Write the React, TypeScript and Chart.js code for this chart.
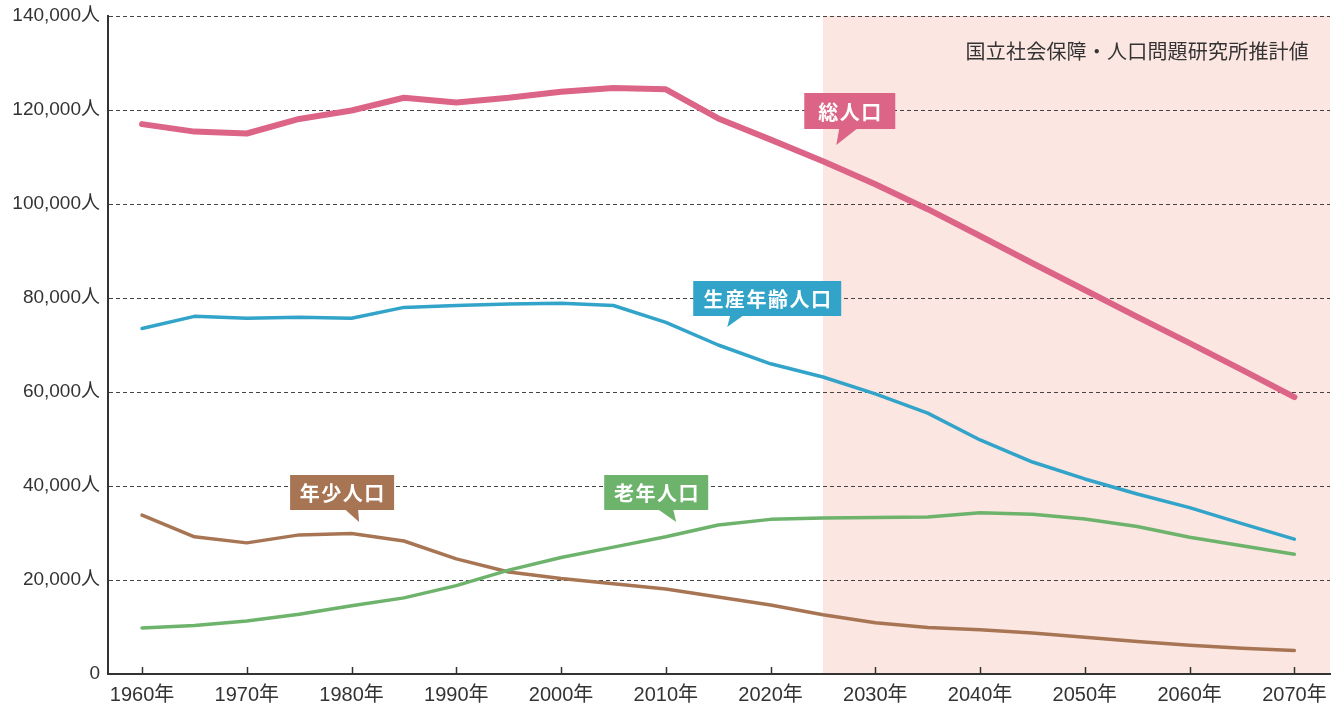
import React, { useEffect, useRef } from 'react';
import { Chart, registerables } from 'chart.js';

Chart.register(...registerables);

// ---------- data ----------
const years = [
  1960, 1965, 1970, 1975, 1980, 1985, 1990, 1995, 2000, 2005, 2010, 2015,
  2020, 2025, 2030, 2035, 2040, 2045, 2050, 2055, 2060, 2065, 2070,
];
const totalPopulation = [
  117000, 115400, 115000, 118100, 119900, 122600, 121600, 122600, 123900, 124700, 124400, 118200,
  113700, 109100, 104200, 98900, 93200, 87400, 81700, 76000, 70400, 64700, 58900,
];
const workingAgePopulation = [
  73500, 76100, 75700, 75900, 75700, 78000, 78400, 78700, 78900, 78400, 74800, 70000,
  66000, 63200, 59600, 55500, 49800, 45100, 41500, 38300, 35400, 32000, 28700,
];
const elderlyPopulation = [
  9800, 10300, 11300, 12700, 14500, 16200, 18800, 22100, 24800, 27000, 29200, 31700,
  32900, 33200, 33300, 33400, 34300, 34000, 33000, 31400, 29100, 27300, 25500,
];
const youthPopulation = [
  33800, 29200, 27900, 29600, 29900, 28300, 24500, 21700, 20300, 19200, 18100, 16400,
  14700, 12600, 10900, 9900, 9400, 8700, 7800, 6900, 6100, 5500, 5000,
];
const seriesNames = ['総人口', '生産年齢人口', '老年人口', '年少人口'];
const xTickYears = [1960, 1970, 1980, 1990, 2000, 2010, 2020, 2030, 2040, 2050, 2060, 2070];
const yTickValues = [0, 20000, 40000, 60000, 80000, 100000, 120000, 140000];
const projectionStartYear = 2025;
const projectionNote = '国立社会保障・人口問題研究所推計値';

// ---------- styles / layout ----------
const COLORS = {
  total: '#dc6486',
  working: '#33a4c9',
  elderly: '#6db36c',
  youth: '#a87554',
  shade: '#fce6e1',
  axis: '#333333',
  grid: '#444444',
  text: '#333333',
};
const FONT_FAMILY = '"Liberation Sans", Arial, "Noto Sans CJK JP", sans-serif';
const CJK_FONT = '"Noto Sans CJK JP", sans-serif';

// callout anchors: tail tip at (year, value); box/tail offsets in px relative to tip
const callouts = [
  { text: '総人口', color: COLORS.total, tipYear: 2026.27, tipValue: 112550, box: { dx: -32, dy: -52, w: 91, h: 36 }, tail: [3, 21] },
  { text: '生産年齢人口', color: COLORS.working, tipYear: 2015.86, tipValue: 73830, box: { dx: -34, dy: -46, w: 148, h: 35 }, tail: [3, 16] },
  { text: '年少人口', color: COLORS.youth, tipYear: 1980.72, tipValue: 32340, box: { dx: -69, dy: -47, w: 104, h: 35 }, tail: [-14, -1] },
  { text: '老年人口', color: COLORS.elderly, tipYear: 2010.99, tipValue: 32340, box: { dx: -72, dy: -47, w: 104, h: 35 }, tail: [-18, -3] },
];

const decorPlugin = {
  id: 'decor',
  beforeDraw(chart: any) {
    const { ctx, chartArea, scales } = chart;
    const x0 = scales.x.getPixelForValue(projectionStartYear);
    ctx.save();
    ctx.fillStyle = COLORS.shade;
    ctx.fillRect(x0, chartArea.top, chartArea.right - x0, chartArea.bottom - chartArea.top);
    ctx.restore();
  },
  afterDraw(chart: any) {
    const { ctx, chartArea, scales } = chart;
    const xs = scales.x;
    const ys = scales.y;
    ctx.save();
    // inward tick marks on x axis
    ctx.strokeStyle = COLORS.axis;
    ctx.lineWidth = 1.5;
    for (const yr of xTickYears) {
      const px = Math.round(xs.getPixelForValue(yr)) + 0.5;
      ctx.beginPath();
      ctx.moveTo(px, chartArea.bottom);
      ctx.lineTo(px, chartArea.bottom - 7);
      ctx.stroke();
    }
    // note text
    ctx.fillStyle = COLORS.text;
    ctx.font = `20px ${CJK_FONT}`;
    (ctx as any).letterSpacing = '0.2px';
    ctx.textAlign = 'right';
    ctx.textBaseline = 'middle';
    ctx.fillText(projectionNote, chartArea.right - 21, chartArea.top + 35);
    // callouts
    for (const c of callouts) {
      const tx = xs.getPixelForValue(c.tipYear);
      const ty = ys.getPixelForValue(c.tipValue);
      const bx = tx + c.box.dx;
      const by = ty + c.box.dy;
      ctx.fillStyle = c.color;
      ctx.fillRect(bx, by, c.box.w, c.box.h);
      ctx.beginPath();
      ctx.moveTo(tx + c.tail[0], by + c.box.h - 0.5);
      ctx.lineTo(tx + c.tail[1], by + c.box.h - 0.5);
      ctx.lineTo(tx, ty);
      ctx.closePath();
      ctx.fill();
      ctx.fillStyle = '#ffffff';
      ctx.font = `bold 20px ${CJK_FONT}`;
      (ctx as any).letterSpacing = '1.5px';
      ctx.textAlign = 'center';
      ctx.textBaseline = 'middle';
      ctx.fillText(c.text, bx + c.box.w / 2 + 0.75, by + c.box.h / 2 + 1);
    }
    ctx.restore();
  },
};

export default function App() {
  const canvasRef = useRef<HTMLCanvasElement | null>(null);

  useEffect(() => {
    const canvas = canvasRef.current;
    if (!canvas) return;
    const mk = (arr: number[]) => years.map((y, i) => ({ x: y, y: arr[i] }));
    const chart = new Chart(canvas, {
      type: 'line',
      data: {
        datasets: [
          { label: seriesNames[0], data: mk(totalPopulation), borderColor: COLORS.total, borderWidth: 6 },
          { label: seriesNames[1], data: mk(workingAgePopulation), borderColor: COLORS.working, borderWidth: 3.5 },
          { label: seriesNames[2], data: mk(elderlyPopulation), borderColor: COLORS.elderly, borderWidth: 3.5 },
          { label: seriesNames[3], data: mk(youthPopulation), borderColor: COLORS.youth, borderWidth: 3.5 },
        ].map((d) => ({
          ...d,
          pointRadius: 0,
          pointHoverRadius: 0,
          tension: 0,
          fill: false,
          borderCapStyle: 'round' as const,
          borderJoinStyle: 'round' as const,
        })),
      },
      options: {
        responsive: false,
        maintainAspectRatio: false,
        animation: false,
        events: [],
        layout: { padding: { top: 16, right: 11, left: 0, bottom: 0 } },
        plugins: { legend: { display: false }, tooltip: { enabled: false } },
        scales: {
          x: {
            type: 'linear',
            min: 1956.75,
            max: 2073.4,
            afterBuildTicks: (s: any) => {
              s.ticks = xTickYears.map((v) => ({ value: v }));
            },
            afterFit: (s: any) => {
              s.height = 35;
              s.paddingLeft = 0;
              s.paddingRight = 0;
            },
            grid: { display: false, drawTicks: false },
            border: { display: true, color: COLORS.axis, width: 2 },
            ticks: {
              padding: 9,
              color: COLORS.text,
              font: { family: FONT_FAMILY, size: 20 },
              callback: (v: any) => `${v}年`,
              maxRotation: 0,
              autoSkip: false,
            },
          },
          y: {
            type: 'linear',
            min: 0,
            max: 140000,
            afterBuildTicks: (s: any) => {
              s.ticks = yTickValues.map((v) => ({ value: v }));
            },
            afterFit: (s: any) => {
              s.width = 108;
              s.paddingTop = 0;
              s.paddingBottom = 0;
            },
            grid: {
              drawTicks: false,
              color: (c: any) => (c.tick && c.tick.value === 0 ? 'rgba(0,0,0,0)' : COLORS.grid),
              lineWidth: 1,
            },
            border: { display: true, color: COLORS.axis, width: 2, dash: [4, 3] },
            ticks: {
              padding: 8,
              color: COLORS.text,
              font: { family: FONT_FAMILY, size: 19 },
              callback: (v: any) => (v === 0 ? '0' : `${Number(v).toLocaleString('en-US')}人`),
              autoSkip: false,
            },
          },
        },
      },
      plugins: [decorPlugin],
    } as any);
    return () => chart.destroy();
  }, []);

  return (
    <div style={{ position: 'fixed', left: 0, top: 0, width: 1341, height: 709, background: '#ffffff' }}>
      <canvas ref={canvasRef} width={1341} height={709} style={{ display: 'block' }} />
    </div>
  );
}
